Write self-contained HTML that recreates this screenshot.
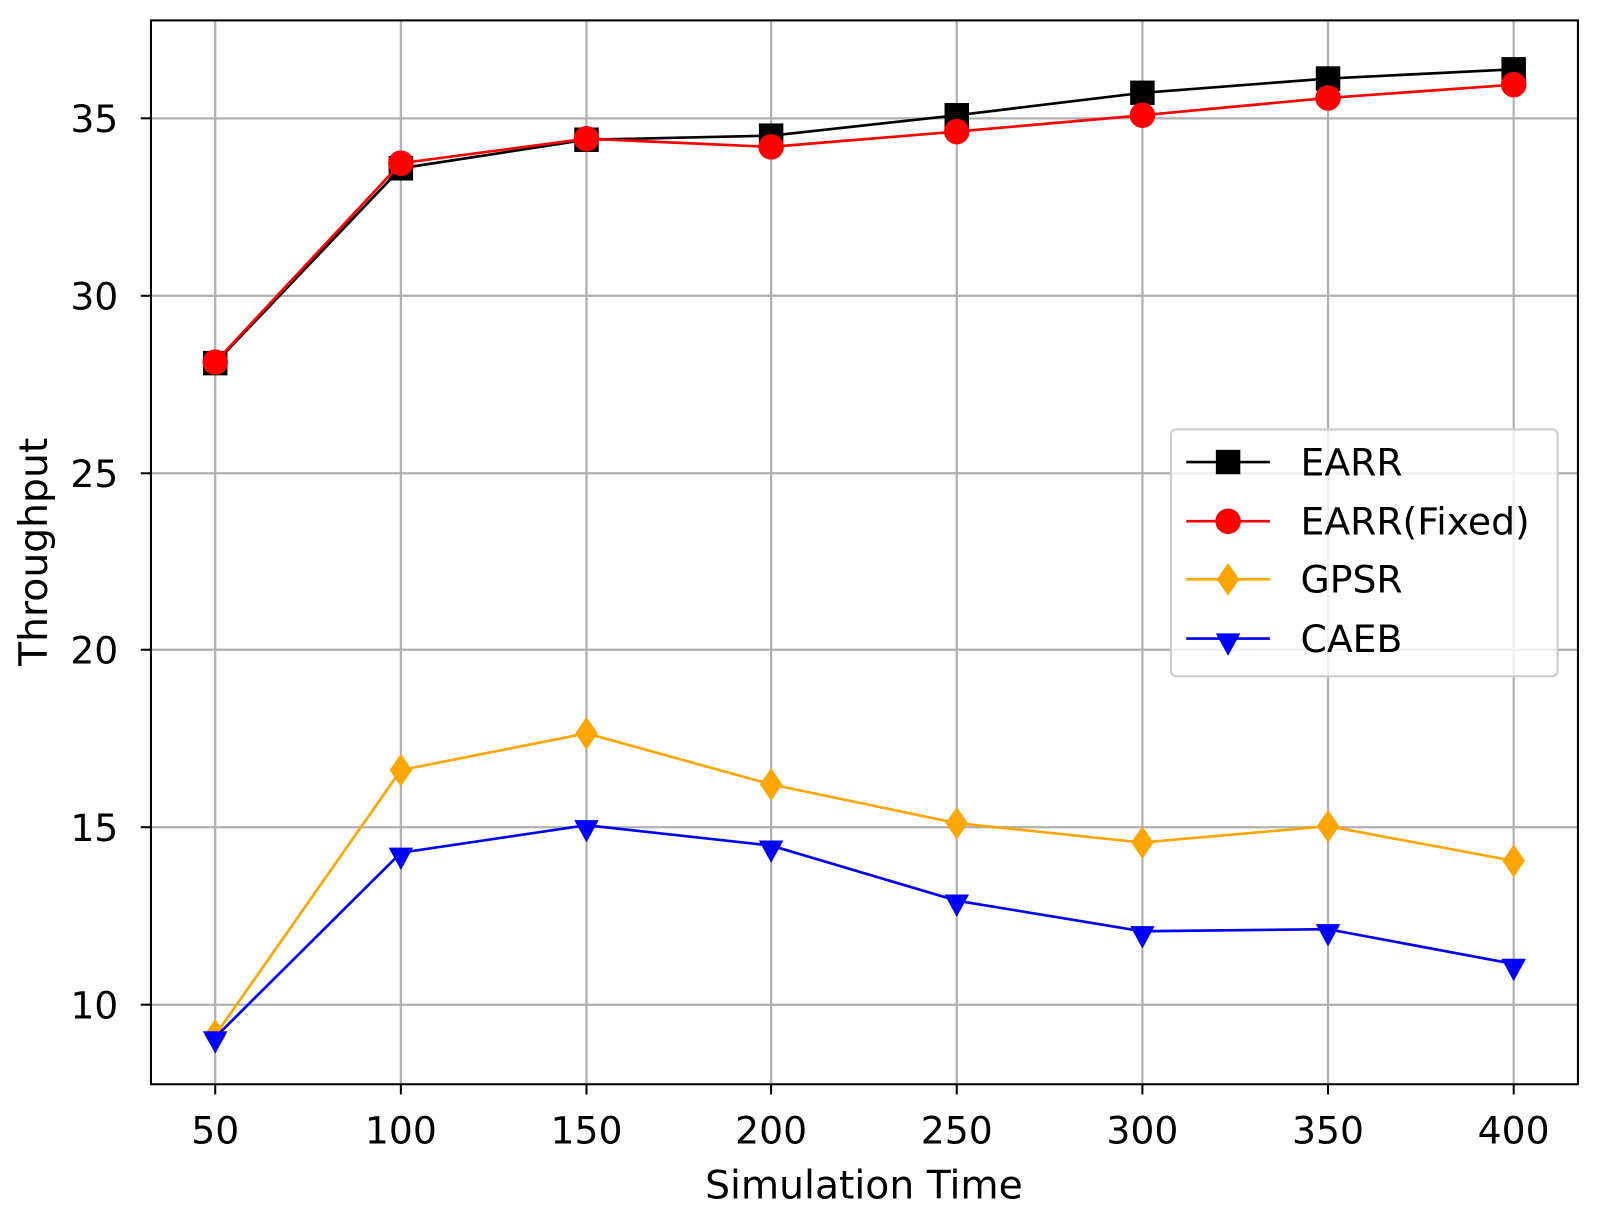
<!DOCTYPE html>
<html><head><meta charset="utf-8"><style>
html,body{margin:0;padding:0;background:#fff;}
text{font-family:"DejaVu Sans","Liberation Sans",sans-serif;fill:#000;}
</style></head><body>
<svg width="1599" height="1215" viewBox="0 0 1599 1215" xmlns="http://www.w3.org/2000/svg">
<rect width="1599" height="1215" fill="#fff"/>
<g transform="scale(1.02)">
<g stroke="#b0b0b0" stroke-width="2.2">
<line x1="211" y1="20" x2="211" y2="1063"/>
<line x1="393" y1="20" x2="393" y2="1063"/>
<line x1="575" y1="20" x2="575" y2="1063"/>
<line x1="756" y1="20" x2="756" y2="1063"/>
<line x1="938" y1="20" x2="938" y2="1063"/>
<line x1="1120" y1="20" x2="1120" y2="1063"/>
<line x1="1302" y1="20" x2="1302" y2="1063"/>
<line x1="1484" y1="20" x2="1484" y2="1063"/>
<line x1="148" y1="116" x2="1547" y2="116"/>
<line x1="148" y1="290" x2="1547" y2="290"/>
<line x1="148" y1="464" x2="1547" y2="464"/>
<line x1="148" y1="637" x2="1547" y2="637"/>
<line x1="148" y1="811" x2="1547" y2="811"/>
<line x1="148" y1="985" x2="1547" y2="985"/>
</g>
<g stroke="#000" stroke-width="2">
<line x1="211" y1="1063" x2="211" y2="1073"/><line x1="393" y1="1063" x2="393" y2="1073"/><line x1="575" y1="1063" x2="575" y2="1073"/><line x1="756" y1="1063" x2="756" y2="1073"/><line x1="938" y1="1063" x2="938" y2="1073"/><line x1="1120" y1="1063" x2="1120" y2="1073"/><line x1="1302" y1="1063" x2="1302" y2="1073"/><line x1="1484" y1="1063" x2="1484" y2="1073"/>
<line x1="138" y1="116" x2="148" y2="116"/><line x1="138" y1="290" x2="148" y2="290"/><line x1="138" y1="464" x2="148" y2="464"/><line x1="138" y1="637" x2="148" y2="637"/><line x1="138" y1="811" x2="148" y2="811"/><line x1="138" y1="985" x2="148" y2="985"/>
</g>
<g font-size="37" text-anchor="middle">
<text x="211" y="1121">50</text><text x="393" y="1121">100</text><text x="575" y="1121">150</text><text x="756" y="1121">200</text><text x="938" y="1121">250</text><text x="1120" y="1121">300</text><text x="1302" y="1121">350</text><text x="1484" y="1121">400</text>
</g>
<g font-size="37" text-anchor="end">
<text x="116" y="129.5">35</text><text x="116" y="303.5">30</text><text x="116" y="477.5">25</text><text x="116" y="650.5">20</text><text x="116" y="824.5">15</text><text x="116" y="998.5">10</text>
</g>
<text x="847" y="1175" font-size="38.5" text-anchor="middle">Simulation Time</text>
<text x="0" y="0" font-size="38.5" text-anchor="middle" transform="translate(46,541) rotate(-90)">Throughput</text>

<polyline fill="none" stroke="#ffa500" stroke-width="2.6" points="211,1015 393,755 575,719 756,769 938,807 1120,826 1302,810 1484,844"/>
<g fill="#ffa500">
<path d="M211,999 l11,16 l-11,16 l-11,-16z"/><path d="M393,739 l11,16 l-11,16 l-11,-16z"/><path d="M575,703 l11,16 l-11,16 l-11,-16z"/><path d="M756,753 l11,16 l-11,16 l-11,-16z"/><path d="M938,791 l11,16 l-11,16 l-11,-16z"/><path d="M1120,810 l11,16 l-11,16 l-11,-16z"/><path d="M1302,794 l11,16 l-11,16 l-11,-16z"/><path d="M1484,828 l11,16 l-11,16 l-11,-16z"/>
</g>
<polyline fill="none" stroke="#0000ff" stroke-width="2.6" points="211,1017 393,836 575,809 756,829 938,883 1120,913 1302,911 1484,945"/>
<g fill="#0000ff">
<path d="M199,1011 h24 l-12,22z"/><path d="M381,831 h24 l-12,22z"/><path d="M563,804 h24 l-12,22z"/><path d="M744,824 h24 l-12,22z"/><path d="M926,877 h24 l-12,22z"/><path d="M1108,908 h24 l-12,22z"/><path d="M1290,906 h24 l-12,22z"/><path d="M1472,940 h24 l-12,22z"/>
</g>
<polyline fill="none" stroke="#000" stroke-width="2.6" points="211,356 393,165 575,137 756,133 938,113 1120,91 1302,77 1484,68"/>
<g fill="#000">
<rect x="199" y="344" width="24" height="24"/><rect x="381" y="153" width="24" height="24"/><rect x="563" y="125" width="24" height="24"/><rect x="744" y="121" width="24" height="24"/><rect x="926" y="101" width="24" height="24"/><rect x="1108" y="79" width="24" height="24"/><rect x="1290" y="65" width="24" height="24"/><rect x="1472" y="56" width="24" height="24"/>
</g>
<polyline fill="none" stroke="#ff0000" stroke-width="2.6" points="211,355 393,160 575,136 756,144 938,129 1120,113 1302,96 1484,83"/>
<g fill="#ff0000">
<circle cx="211" cy="355" r="12.5"/><circle cx="393" cy="160" r="12.5"/><circle cx="575" cy="136" r="12.5"/><circle cx="756" cy="144" r="12.5"/><circle cx="938" cy="129" r="12.5"/><circle cx="1120" cy="113" r="12.5"/><circle cx="1302" cy="96" r="12.5"/><circle cx="1484" cy="83" r="12.5"/>
</g>
<rect x="148" y="20" width="1399" height="1043" fill="none" stroke="#000" stroke-width="2"/>
<rect x="1148" y="421" width="379" height="242" rx="5" fill="#fff" fill-opacity="0.8" stroke="#ccc" stroke-width="2"/>
<line x1="1163" y1="453" x2="1245" y2="453" stroke="#000" stroke-width="2.6"/><rect x="1192" y="441" width="24" height="24" fill="#000"/>
<line x1="1163" y1="511" x2="1245" y2="511" stroke="#f00" stroke-width="2.6"/><circle cx="1204" cy="511" r="12.5" fill="#f00"/>
<line x1="1163" y1="568" x2="1245" y2="568" stroke="#ffa500" stroke-width="2.6"/><path d="M1204,552 l11,16 l-11,16 l-11,-16z" fill="#ffa500"/>
<line x1="1163" y1="626" x2="1245" y2="626" stroke="#00f" stroke-width="2.6"/><path d="M1192,621 h24 l-12,22z" fill="#00f"/>
<g font-size="37">
<text x="1275" y="466">EARR</text><text x="1275" y="524">EARR(Fixed)</text><text x="1275" y="581">GPSR</text><text x="1275" y="639">CAEB</text>
</g>
</g>
</svg>
</body></html>
